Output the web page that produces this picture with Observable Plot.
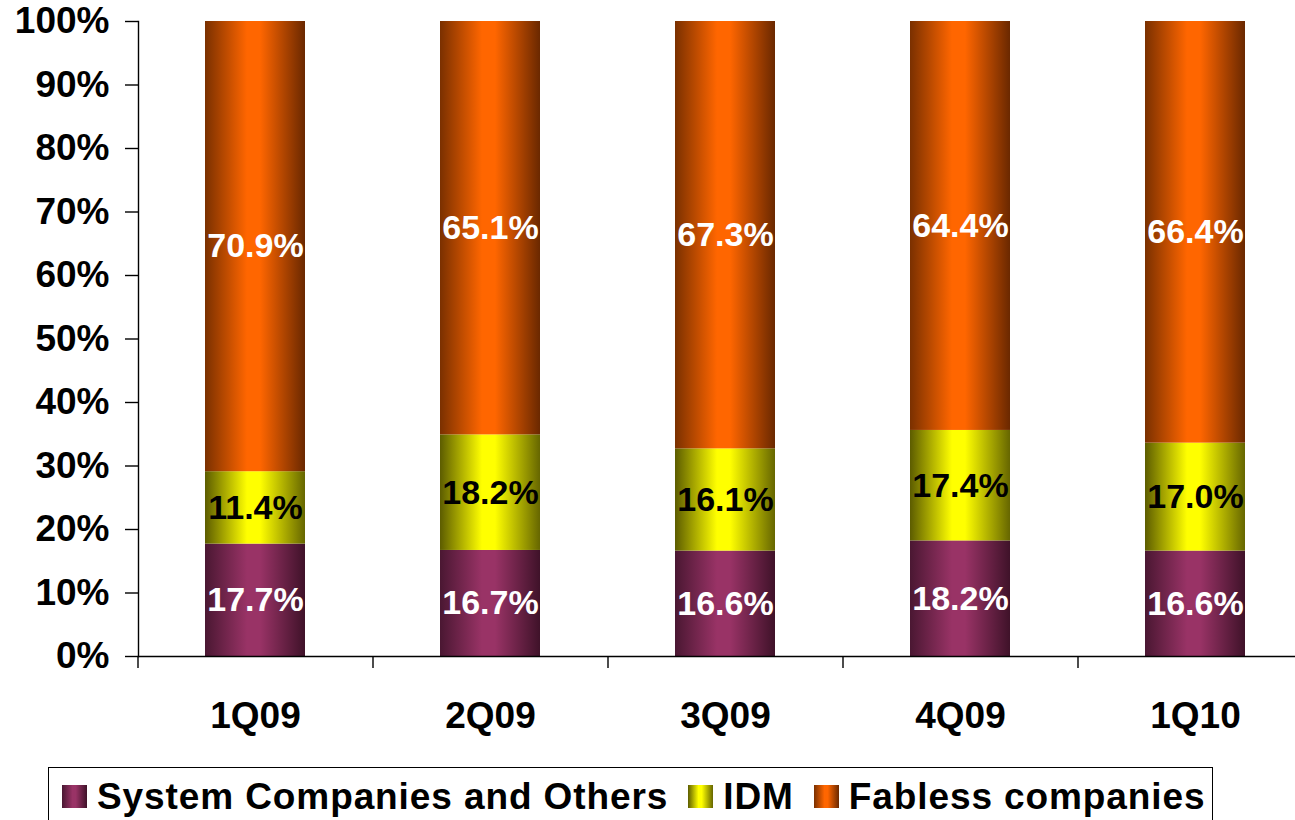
<!DOCTYPE html>
<html>
<head>
<meta charset="utf-8">
<script src="https://cdn.jsdelivr.net/npm/d3@7"></script>
<script src="https://cdn.jsdelivr.net/npm/@observablehq/plot@0.6"></script>
<style>
  body { margin: 0; background: #fff; font-family: "Liberation Sans", Arial, sans-serif; }
  #wrap { position: relative; width: 1295px; height: 820px; overflow: hidden; }
  #legend {
    position: absolute; left: 48px; top: 767px; width: 1165px; height: 56px;
    border: 1.5px solid #000; box-sizing: border-box;
    display: flex; align-items: center; padding-left: 13px; padding-top: 3px;
    font-weight: bold; font-size: 37px; letter-spacing: 0.9px; color: #000; white-space: nowrap;
  }
  .item { display: flex; align-items: center; margin-right: 20px; }
  .sw { width: 25px; height: 23px; margin-right: 10px; }
</style>
</head>
<body>
<div id="wrap">
  <div id="chart"></div>
  <div id="legend"></div>
</div>
<script>
const quarters = ["1Q09", "2Q09", "3Q09", "4Q09", "1Q10"];
const seriesNames = ["System Companies and Others", "IDM", "Fabless companies"];
const systemCompanies = [17.7, 16.7, 16.6, 18.2, 16.6];
const idm = [11.4, 18.2, 16.1, 17.4, 17.0];
const fabless = [70.9, 65.1, 67.3, 64.4, 66.4];
const yTicks = [0, 10, 20, 30, 40, 50, 60, 70, 80, 90, 100];

const seriesValues = [systemCompanies, idm, fabless];
const gradIds = ["gMag", "gYel", "gOra"];
const bright = ["#993366", "#ffff00", "#ff6600"];
const darkL = ["#4a1732", "#5c5c00", "#7a3000"];
const darkR = ["#3f1229", "#666600", "#6a2800"];
const labelColors = ["#ffffff", "#000000", "#ffffff"];

// Build stacked rows from the arrays
const rows = [];
quarters.forEach((q, i) => {
  let base = 0;
  seriesValues.forEach((vals, s) => {
    const v = vals[i];
    rows.push({q, s, v, y1: base, y2: base + v, mid: base + v / 2});
    base += v;
  });
});

const marks = [];
seriesNames.forEach((name, s) => {
  marks.push(Plot.barY(rows.filter(d => d.s === s), {
    x: "q", y1: "y1", y2: "y2", fill: `url(#${gradIds[s]})`
  }));
});
seriesNames.forEach((name, s) => {
  marks.push(Plot.text(rows.filter(d => d.s === s), {
    x: "q", y: "mid", text: d => d.v.toFixed(1) + "%",
    fill: labelColors[s], fontSize: 34, fontWeight: "bold"
  }));
});

const plot = Plot.plot({
  width: 1295,
  height: 750,
  marginTop: 21,
  marginBottom: 94,
  marginLeft: 138,
  marginRight: 0,
  style: { fontFamily: "'Liberation Sans', Arial, sans-serif", background: "transparent", overflow: "hidden" },
  x: { domain: quarters, range: [138, 1313], paddingInner: 0.574, paddingOuter: 0.287 },
  y: { domain: [0, 100] },
  marks: [
    ...marks,
    Plot.frame({ anchor: "left", strokeWidth: 1.4 }),
    Plot.frame({ anchor: "bottom", strokeWidth: 1.4 }),
    Plot.axisY({
      ticks: yTicks, tickFormat: d => d + "%", tickSize: 13, tickPadding: 16,
      fontSize: 37, fontWeight: "bold", label: null, strokeWidth: 1.4, fill: "#000"
    }),
    Plot.axisX({
      tickSize: 0, tickPadding: 45, fontSize: 37, fontWeight: "bold", label: null, fill: "#000"
    }),
    Plot.axisX({
      tickSize: 12, text: null, label: null, dx: -117.5, strokeWidth: 1.4
    })
  ]
});

// Gradient definitions
const ns = "http://www.w3.org/2000/svg";
const defs = document.createElementNS(ns, "defs");
gradIds.forEach((id, s) => {
  const g = document.createElementNS(ns, "linearGradient");
  g.setAttribute("id", id);
  g.setAttribute("x1", "0"); g.setAttribute("x2", "1");
  g.setAttribute("y1", "0"); g.setAttribute("y2", "0");
  [[0, darkL[s]], [0.42, bright[s]], [0.55, bright[s]], [1, darkR[s]]].forEach(([o, c]) => {
    const st = document.createElementNS(ns, "stop");
    st.setAttribute("offset", o);
    st.setAttribute("stop-color", c);
    g.appendChild(st);
  });
  defs.appendChild(g);
});
plot.insertBefore(defs, plot.firstChild);
document.getElementById("chart").appendChild(plot);

// Legend
const legend = document.getElementById("legend");
seriesNames.forEach((name, s) => {
  const item = document.createElement("div");
  item.className = "item";
  const sw = document.createElement("div");
  sw.className = "sw";
  sw.style.background = `linear-gradient(to right, ${darkL[s]} 0%, ${bright[s]} 42%, ${bright[s]} 55%, ${darkR[s]} 100%)`;
  const t = document.createElement("span");
  t.textContent = name;
  item.appendChild(sw);
  item.appendChild(t);
  legend.appendChild(item);
});
</script>
</body>
</html>
